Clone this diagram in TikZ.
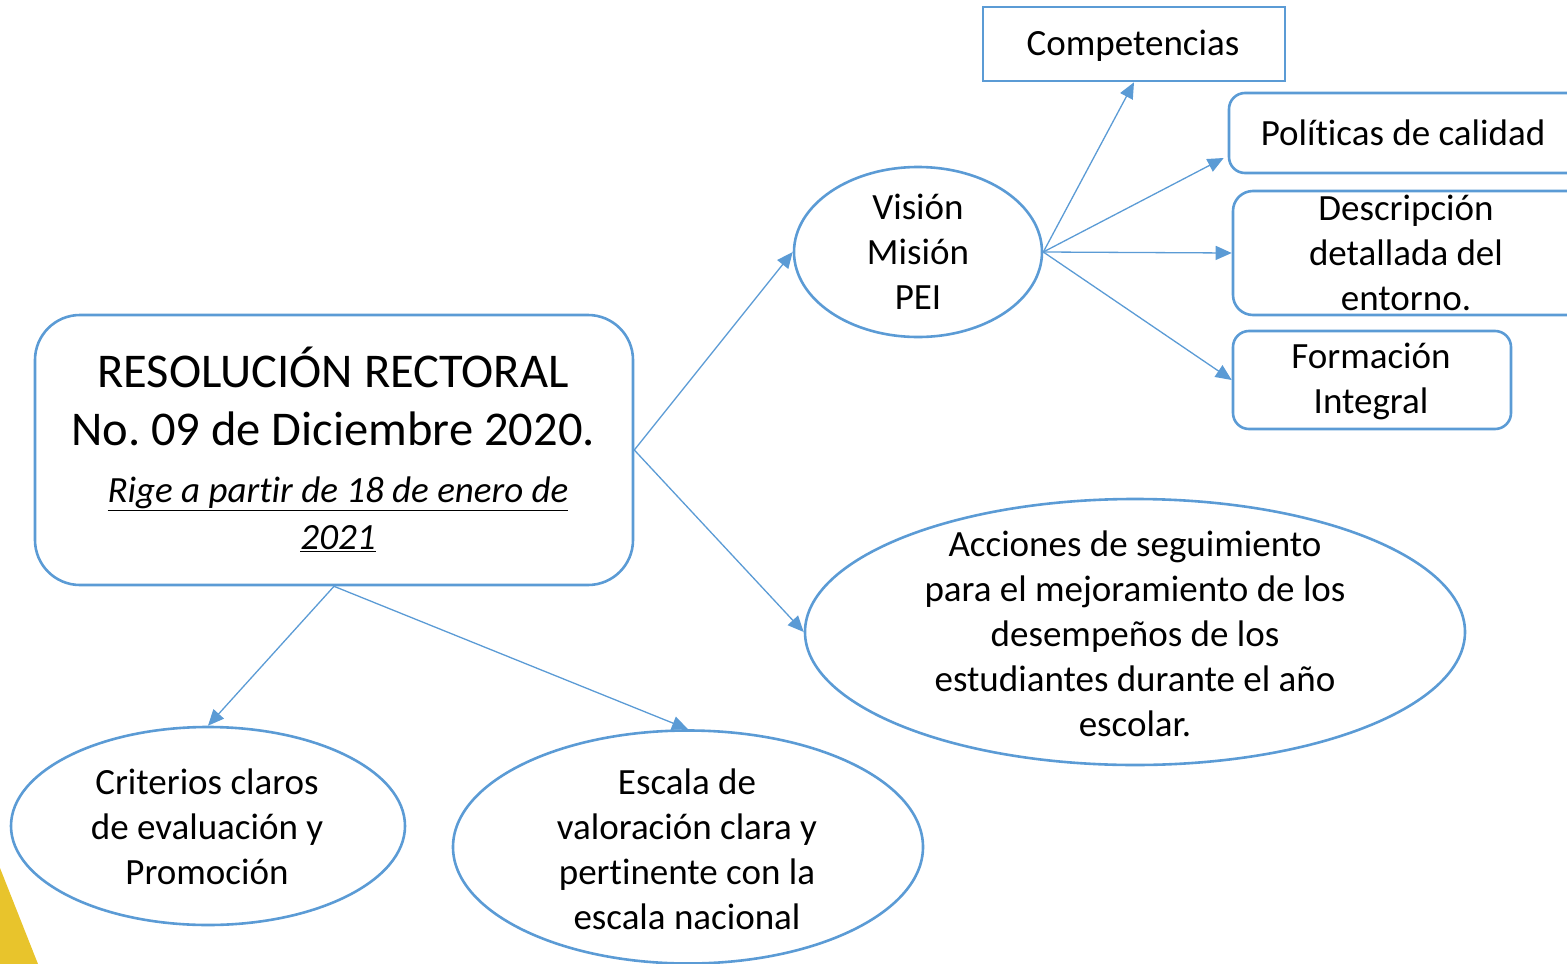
\documentclass[tikz,border=0pt]{standalone}
\usepackage{fontspec}
\setmainfont{Carlito}[Ligatures=CommonOff]
\usepackage{tikz}
\usetikzlibrary{shapes.geometric,arrows.meta,calc}
\definecolor{officeblue}{RGB}{91,155,213}
\definecolor{cornergold}{RGB}{232,196,44}
\frenchspacing

\tikzset{
  txt/.style={font=\fontsize{37}{45}\selectfont, align=center, inner sep=0pt},
  bigtxt/.style={font=\fontsize{48.5}{58}\selectfont, align=center, inner sep=0pt},
  frame/.style={draw=officeblue, line width=2.6pt, inner sep=0pt},
  rbox/.style={frame, rectangle, rounded corners=#1},
  oval/.style={frame, ellipse},
  conn/.style={draw=officeblue, line width=1.3pt, -{Triangle[length=16pt,width=14pt]}}
}

\begin{document}
\begin{tikzpicture}[x=1pt, y=-1pt]

\clip (0,0) rectangle (1567,964);
\useasboundingbox (0,0) rectangle (1567,964);

% Yellow corner
\fill[cornergold] (0,868) -- (38,964) -- (0,964) -- cycle;

% Main box
\node[rbox=45pt, minimum width=598pt, minimum height=270pt] (res) at (334,450) {};
\node[bigtxt] (restitle) at (333,396) {RESOLUCIÓN RECTORAL\\No. 09 de Diciembre 2020.};
\node[txt, font=\fontsize{37}{47}\selectfont\itshape] (resdate) at (338,514)
  {\underline{Rige a partir de 18 de enero de}\\\underline{2021}};

% Upper branch
\node[oval, minimum width=248pt, minimum height=170pt] (vis) at (918,252) {};
\node[txt] (vistxt) at (918,252) {Visión\\Misión\\PEI};

\node[rbox=0pt, minimum width=302pt, minimum height=74pt] (comp) at (1134,44) {};
\node[txt] (comptxt) at (1133,46) {Competencias};

\node[rbox=16pt, minimum width=371pt, minimum height=80pt] (pol) at (1414.5,133) {};
\node[txt] (poltxt) at (1403,133) {Políticas de calidad};

\node[rbox=20pt, minimum width=367pt, minimum height=124pt] (desc) at (1416.5,253) {};
\node[txt] (desctxt) at (1406,253) {Descripción\\detallada del\\entorno.};

\node[rbox=16pt, minimum width=278pt, minimum height=98pt] (form) at (1372,380) {};
\node[txt] (formtxt) at (1371,381) {Formación\\Integral};

% Right ellipse
\node[oval, minimum width=660pt, minimum height=266pt] (acc) at (1135,632) {};
\node[txt] (acctxt) at (1135,634) {Acciones de seguimiento\\para el mejoramiento de los\\desempeños de los\\estudiantes durante el año\\escolar.};

% Bottom ellipses
\node[oval, minimum width=394pt, minimum height=198pt] (crit) at (208,826) {};
\node[txt] (crittxt) at (207,827) {Criterios claros\\de evaluación y\\Promoción};

\node[oval, minimum width=470pt, minimum height=233pt] (esc) at (688,847) {};
\node[txt] (esctxt) at (687,849) {Escala de\\valoración clara y\\pertinente con la\\escala nacional};

% Connectors
\draw[conn] (res.east) -- (vis.west);
\draw[conn] (res.east) -- (acc.west);
\draw[conn] (res.south) -- (crit.north);
\draw[conn] (res.south) -- (esc.north);
\draw[conn] (vis.east) -- (comp.south);
\draw[conn] (vis.east) -- ($(pol.west)+(-4,25)$);
\draw[conn] (vis.east) -- (desc.west);
\draw[conn] (vis.east) -- (form.west);

\end{tikzpicture}
\end{document}
